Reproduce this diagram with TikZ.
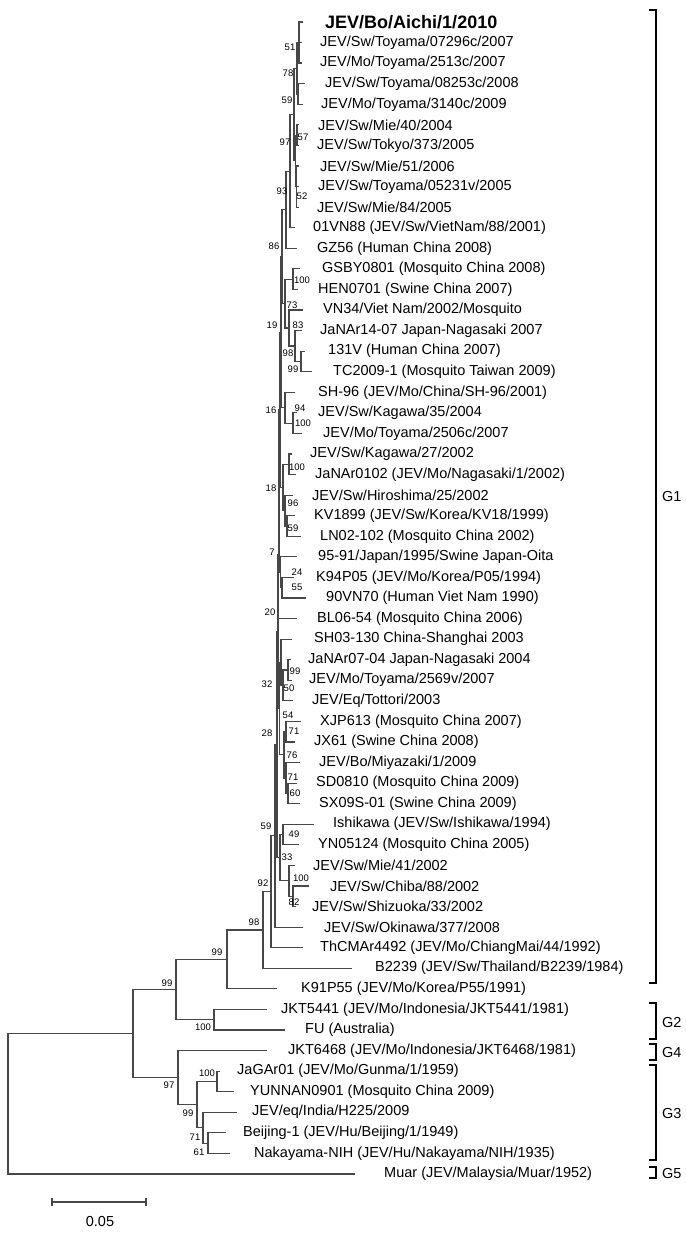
\documentclass[tikz,border=0pt]{standalone}
\usepackage{fontspec}
\setmainfont{Liberation Sans}
\usetikzlibrary{positioning}

\begin{document}
\begin{tikzpicture}[
  x=1pt, y=-1pt,
  leaf/.style={anchor=west, inner sep=0pt, font=\fontsize{14.5}{16}\selectfont},
  boot/.style={inner sep=0pt, font=\fontsize{9.5}{10}\selectfont},
  branch/.style={draw=black!72, line width=1.2pt},
  clade/.style={draw=black, line width=2.3pt},
  grp/.style={anchor=west, inner sep=0pt, font=\fontsize{14.5}{16}\selectfont}
]
\useasboundingbox (0,0) rectangle (685,1236);

% leaves
\node[leaf, font=\fontsize{18}{20}\selectfont\bfseries] (l1) at (325,22.0) {JEV/Bo/Aichi/1/2010};
\node[leaf] (l2) at (320,42.6) {JEV/Sw/Toyama/07296c/2007};
\node[leaf] (l3) at (320,63.1) {JEV/Mo/Toyama/2513c/2007};
\node[leaf] (l4) at (325,83.7) {JEV/Sw/Toyama/08253c/2008};
\node[leaf] (l5) at (321,104.3) {JEV/Mo/Toyama/3140c/2009};
\node[leaf] (l6) at (318,124.9) {JEV/Sw/Mie/40/2004};
\node[leaf] (l7) at (317,145.4) {JEV/Sw/Tokyo/373/2005};
\node[leaf] (l8) at (320,166.0) {JEV/Sw/Mie/51/2006};
\node[leaf] (l9) at (318,186.6) {JEV/Sw/Toyama/05231v/2005};
\node[leaf] (l10) at (317,207.1) {JEV/Sw/Mie/84/2005};
\node[leaf] (l11) at (313,227.7) {01VN88 (JEV/Sw/VietNam/88/2001)};
\node[leaf] (l12) at (317,248.3) {GZ56 (Human China 2008)};
\node[leaf] (l13) at (322,268.8) {GSBY0801 (Mosquito China 2008)};
\node[leaf] (l14) at (318,289.4) {HEN0701 (Swine China 2007)};
\node[leaf] (l15) at (323,310.0) {VN34/Viet Nam/2002/Mosquito};
\node[leaf] (l16) at (320,330.6) {JaNAr14-07 Japan-Nagasaki 2007};
\node[leaf] (l17) at (328,351.1) {131V (Human China 2007)};
\node[leaf] (l18) at (333,371.7) {TC2009-1 (Mosquito Taiwan 2009)};
\node[leaf] (l19) at (318,392.3) {SH-96 (JEV/Mo/China/SH-96/2001)};
\node[leaf] (l20) at (318,412.8) {JEV/Sw/Kagawa/35/2004};
\node[leaf] (l21) at (323,433.4) {JEV/Mo/Toyama/2506c/2007};
\node[leaf] (l22) at (310,454.0) {JEV/Sw/Kagawa/27/2002};
\node[leaf] (l23) at (315,474.5) {JaNAr0102 (JEV/Mo/Nagasaki/1/2002)};
\node[leaf] (l24) at (312,495.1) {JEV/Sw/Hiroshima/25/2002};
\node[leaf] (l25) at (314,515.7) {KV1899 (JEV/Sw/Korea/KV18/1999)};
\node[leaf] (l26) at (320,536.3) {LN02-102 (Mosquito China 2002)};
\node[leaf] (l27) at (318,556.8) {95-91/Japan/1995/Swine Japan-Oita};
\node[leaf] (l28) at (316,577.4) {K94P05 (JEV/Mo/Korea/P05/1994)};
\node[leaf] (l29) at (326,598.0) {90VN70 (Human Viet Nam 1990)};
\node[leaf] (l30) at (317,618.5) {BL06-54 (Mosquito China 2006)};
\node[leaf] (l31) at (314,639.1) {SH03-130 China-Shanghai 2003};
\node[leaf] (l32) at (308,659.7) {JaNAr07-04 Japan-Nagasaki 2004};
\node[leaf] (l33) at (309,680.2) {JEV/Mo/Toyama/2569v/2007};
\node[leaf] (l34) at (312,700.8) {JEV/Eq/Tottori/2003};
\node[leaf] (l35) at (320,721.4) {XJP613 (Mosquito China 2007)};
\node[leaf] (l36) at (314,742.0) {JX61 (Swine China 2008)};
\node[leaf] (l37) at (319,762.5) {JEV/Bo/Miyazaki/1/2009};
\node[leaf] (l38) at (316,783.1) {SD0810 (Mosquito China 2009)};
\node[leaf] (l39) at (319,803.7) {SX09S-01 (Swine China 2009)};
\node[leaf] (l40) at (333,824.2) {Ishikawa (JEV/Sw/Ishikawa/1994)};
\node[leaf] (l41) at (318,844.8) {YN05124 (Mosquito China 2005)};
\node[leaf] (l42) at (313,865.4) {JEV/Sw/Mie/41/2002};
\node[leaf] (l43) at (330,885.9) {JEV/Sw/Chiba/88/2002};
\node[leaf] (l44) at (312,906.5) {JEV/Sw/Shizuoka/33/2002};
\node[leaf] (l45) at (324,927.1) {JEV/Sw/Okinawa/377/2008};
\node[leaf] (l46) at (320,947.6) {ThCMAr4492 (JEV/Mo/ChiangMai/44/1992)};
\node[leaf] (l47) at (375,968.2) {B2239 (JEV/Sw/Thailand/B2239/1984)};
\node[leaf] (l48) at (301,988.8) {K91P55 (JEV/Mo/Korea/P55/1991)};
\node[leaf] (l49) at (281,1009.4) {JKT5441 (JEV/Mo/Indonesia/JKT5441/1981)};
\node[leaf] (l50) at (305,1029.9) {FU (Australia)};
\node[leaf] (l51) at (288,1050.5) {JKT6468 (JEV/Mo/Indonesia/JKT6468/1981)};
\node[leaf] (l52) at (237,1071.1) {JaGAr01 (JEV/Mo/Gunma/1/1959)};
\node[leaf] (l53) at (250,1091.6) {YUNNAN0901 (Mosquito China 2009)};
\node[leaf] (l54) at (252,1112.2) {JEV/eq/India/H225/2009};
\node[leaf] (l55) at (243,1132.8) {Beijing-1 (JEV/Hu/Beijing/1/1949)};
\node[leaf] (l56) at (254,1153.4) {Nakayama-NIH (JEV/Hu/Nakayama/NIH/1935)};
\node[leaf] (l57) at (384,1173.9) {Muar (JEV/Malaysia/Muar/1952)};

% branch tips
\coordinate (t1) at (303,22.0);   \coordinate (t2) at (302,42.6);
\coordinate (t3) at (302,63.1);   \coordinate (t4) at (305,83.7);
\coordinate (t5) at (303,104.3);  \coordinate (t6) at (299,124.9);
\coordinate (t7) at (299,145.4);  \coordinate (t8) at (299,166.0);
\coordinate (t9) at (299,186.6);  \coordinate (t10) at (299,207.1);
\coordinate (t11) at (295,227.7); \coordinate (t12) at (297,248.3);
\coordinate (t13) at (300,268.8); \coordinate (t14) at (298,289.4);
\coordinate (t15) at (303,310.0); \coordinate (t16) at (302,330.6);
\coordinate (t17) at (305,351.1); \coordinate (t18) at (312,371.7);
\coordinate (t19) at (295,392.3); \coordinate (t20) at (297,412.8);
\coordinate (t21) at (302,433.4); \coordinate (t22) at (292,454.0);
\coordinate (t23) at (296,474.5); \coordinate (t24) at (293,495.1);
\coordinate (t25) at (295,515.7); \coordinate (t26) at (301,536.3);
\coordinate (t27) at (297,556.8); \coordinate (t28) at (294,577.4);
\coordinate (t29) at (306,598.0); \coordinate (t30) at (297,618.5);
\coordinate (t31) at (292,639.1); \coordinate (t32) at (291,659.7);
\coordinate (t33) at (292,680.2); \coordinate (t34) at (293,700.8);
\coordinate (t35) at (301,721.4); \coordinate (t36) at (295,742.0);
\coordinate (t37) at (300,762.5); \coordinate (t38) at (297,783.1);
\coordinate (t39) at (300,803.7); \coordinate (t40) at (314,824.2);
\coordinate (t41) at (299,844.8); \coordinate (t42) at (295,865.4);
\coordinate (t43) at (309,885.9); \coordinate (t44) at (296,906.5);
\coordinate (t45) at (303,927.1); \coordinate (t46) at (303,947.6);
\coordinate (t47) at (352,968.2); \coordinate (t48) at (277,988.8);
\coordinate (t49) at (267,1009.4); \coordinate (t50) at (285,1029.9);
\coordinate (t51) at (267,1050.5); \coordinate (t52) at (220,1071.1);
\coordinate (t53) at (234,1091.6); \coordinate (t54) at (237,1112.2);
\coordinate (t55) at (226,1132.8); \coordinate (t56) at (230,1153.4);
\coordinate (t57) at (355,1173.9);

% internal nodes
\coordinate (a1) at (299,42.55);  \coordinate (a2) at (298,94.0);
\coordinate (a3) at (297,68.3);   \coordinate (a4) at (297,135.15);
\coordinate (a5) at (296.5,186.55); \coordinate (a6) at (295.5,160.85);
\coordinate (a7) at (294,114.6);  \coordinate (a8) at (290,171.15);
\coordinate (a9) at (286,209.7);
\coordinate (b1) at (293,279.1);  \coordinate (b2) at (301,361.4);
\coordinate (b3) at (295,346.0);  \coordinate (b4) at (289,328.0);
\coordinate (b5) at (285,303.55);
\coordinate (c1) at (293,423.1);  \coordinate (c2) at (285,407.7);
\coordinate (d1) at (289,464.25); \coordinate (d2) at (287,526.0);
\coordinate (d3) at (285,510.55); \coordinate (d4) at (283,487.4);
\coordinate (e1) at (282,587.7);  \coordinate (e2) at (280.5,572.25);
\coordinate (f1) at (288,669.95); \coordinate (f2) at (283,685.4);
\coordinate (f3) at (281,662.25); \coordinate (f4) at (286,731.7);
\coordinate (f5) at (288,793.4);  \coordinate (f6) at (286,777.95);
\coordinate (f7) at (284,754.8);  \coordinate (f9) at (279.5,708.5);
\coordinate (g1) at (283,834.5);  \coordinate (g2) at (293,896.2);
\coordinate (g3) at (289,880.8);  \coordinate (g4) at (280,857.65);
\coordinate (sp1) at (282,256.6); \coordinate (sp2) at (281,332.15);
\coordinate (sp3) at (280,409.8); \coordinate (sp4) at (279,491.0);
\coordinate (sp5) at (278.5,554.75); \coordinate (sp6) at (278,631.6);
\coordinate (sp7) at (277,744.6); \coordinate (sp8) at (275,835.85);
\coordinate (n92) at (271,891.7); \coordinate (n98) at (263,929.95);
\coordinate (n99c) at (227,959.4); \coordinate (nG2) at (214,1019.65);
\coordinate (n99b) at (176,989.5);
\coordinate (h1) at (217,1081.35); \coordinate (h3) at (208,1143.1);
\coordinate (h2) at (203,1127.65); \coordinate (nG3) at (197,1104.5);
\coordinate (nG34) at (178,1077.5); \coordinate (nA) at (133,1033.5);
\coordinate (root) at (8,1103.7);

% branches
\draw[branch] (a1) |- (t1) (a1) |- (t2) (a1) |- (t3);
\draw[branch] (a2) |- (t4) (a2) |- (t5);
\draw[branch] (a3) |- (a1) (a3) |- (a2);
\draw[branch] (a4) |- (t6) (a4) |- (t7);
\draw[branch] (a5) |- (t8) (a5) |- (t9) (a5) |- (t10);
\draw[branch] (a6) |- (a4) (a6) |- (a5);
\draw[branch] (a7) |- (a3) (a7) |- (a6);
\draw[branch] (a8) |- (a7) (a8) |- (t11);
\draw[branch] (a9) |- (a8) (a9) |- (t12);
\draw[branch] (b1) |- (t13) (b1) |- (t14);
\draw[branch] (b2) |- (t17) (b2) |- (t18);
\draw[branch] (b3) |- (t16) (b3) |- (b2);
\draw[branch] (b4) |- (t15) (b4) |- (b3);
\draw[branch] (b5) |- (b1) (b5) |- (b4);
\draw[branch] (c1) |- (t20) (c1) |- (t21);
\draw[branch] (c2) |- (t19) (c2) |- (c1);
\draw[branch] (d1) |- (t22) (d1) |- (t23);
\draw[branch] (d2) |- (t25) (d2) |- (t26);
\draw[branch] (d3) |- (t24) (d3) |- (d2);
\draw[branch] (d4) |- (d1) (d4) |- (d3);
\draw[branch] (e1) |- (t28) (e1) |- (t29);
\draw[branch] (e2) |- (t27) (e2) |- (e1);
\draw[branch] (f1) |- (t32) (f1) |- (t33);
\draw[branch] (f2) |- (f1) (f2) |- (t34);
\draw[branch] (f3) |- (t31) (f3) |- (f2);
\draw[branch] (f4) |- (t35) (f4) |- (t36);
\draw[branch] (f5) |- (t38) (f5) |- (t39);
\draw[branch] (f6) |- (t37) (f6) |- (f5);
\draw[branch] (f7) |- (f4) (f7) |- (f6);
\draw[branch] (f9) |- (f3) (f9) |- (f7);
\draw[branch] (g1) |- (t40) (g1) |- (t41);
\draw[branch] (g2) |- (t43) (g2) |- (t44);
\draw[branch] (g3) |- (t42) (g3) |- (g2);
\draw[branch] (g4) |- (g1) (g4) |- (g3);
\draw[branch] (sp1) |- (a9) (sp1) |- (b5);
\draw[branch] (sp2) |- (sp1) (sp2) |- (c2);
\draw[branch] (sp3) |- (sp2) (sp3) |- (d4);
\draw[branch] (sp4) |- (sp3) (sp4) |- (e2);
\draw[branch] (sp5) |- (sp4) (sp5) |- (t30);
\draw[branch] (sp6) |- (sp5) (sp6) |- (f9);
\draw[branch] (sp7) |- (sp6) (sp7) |- (g4);
\draw[branch] (sp8) |- (sp7) (sp8) |- (t45);
\draw[branch] (n92) |- (sp8) (n92) |- (t46);
\draw[branch] (n98) |- (n92) (n98) |- (t47);
\draw[branch] (n99c) |- (n98) (n99c) |- (t48);
\draw[branch] (nG2) |- (t49) (nG2) |- (t50);
\draw[branch] (n99b) |- (n99c) (n99b) |- (nG2);
\draw[branch] (h1) |- (t52) (h1) |- (t53);
\draw[branch] (h3) |- (t55) (h3) |- (t56);
\draw[branch] (h2) |- (t54) (h2) |- (h3);
\draw[branch] (nG3) |- (h1) (nG3) |- (h2);
\draw[branch] (nG34) |- (t51) (nG34) |- (nG3);
\draw[branch] (nA) |- (n99b) (nA) |- (nG34);
\draw[branch] (root) |- (nA) (root) |- (t57);

% bootstrap values
\node[boot] (v51) at (290,47) {51};
\node[boot] (v78) at (288,73) {78};
\node[boot] (v59a) at (287,100) {59};
\node[boot] (v57) at (303,137) {57};
\node[boot] (v97a) at (285,142) {97};
\node[boot] (v93) at (282,191) {93};
\node[boot] (v52) at (302,196) {52};
\node[boot] (v86) at (274,246) {86};
\node[boot] (v100a) at (302,280) {100};
\node[boot] (v73) at (292,305) {73};
\node[boot] (v19) at (272,325) {19};
\node[boot] (v83) at (298,325) {83};
\node[boot] (v98a) at (288,353) {98};
\node[boot] (v99a) at (293,369) {99};
\node[boot] (v16) at (271,410) {16};
\node[boot] (v94) at (300,408) {94};
\node[boot] (v100b) at (303,423) {100};
\node[boot] (v100c) at (297,467) {100};
\node[boot] (v18) at (271,488) {18};
\node[boot] (v96) at (293,503) {96};
\node[boot] (v59b) at (293,528) {59};
\node[boot] (v7) at (272,552) {7};
\node[boot] (v24) at (297,572) {24};
\node[boot] (v55) at (297,587) {55};
\node[boot] (v20) at (270,612) {20};
\node[boot] (v99b) at (295,671) {99};
\node[boot] (v32) at (267,684) {32};
\node[boot] (v50) at (289,688) {50};
\node[boot] (v54) at (288,715) {54};
\node[boot] (v28) at (267,733) {28};
\node[boot] (v71a) at (294,731) {71};
\node[boot] (v76) at (292,755) {76};
\node[boot] (v71b) at (293,777) {71};
\node[boot] (v60) at (295,793) {60};
\node[boot] (v59c) at (266,826) {59};
\node[boot] (v49) at (294,834) {49};
\node[boot] (v33) at (287,857) {33};
\node[boot] (v100d) at (301,878) {100};
\node[boot] (v92) at (263,883) {92};
\node[boot] (v82) at (294,902) {82};
\node[boot] (v98b) at (254,922) {98};
\node[boot] (v99c) at (217,952) {99};
\node[boot] (v99d) at (167,983) {99};
\node[boot] (v100e) at (203,1027) {100};
\node[boot] (v100f) at (207,1073) {100};
\node[boot] (v97b) at (169,1085) {97};
\node[boot] (v99e) at (188,1113) {99};
\node[boot] (v71c) at (195,1137) {71};
\node[boot] (v61) at (199,1152) {61};

% genotype brackets
\draw[clade] (649,10) -- (656,10) -- (656,983) -- (649,983);
\draw[clade] (649,1003) -- (656,1003) -- (656,1039) -- (649,1039);
\draw[clade] (649,1044) -- (656,1044) -- (656,1060) -- (649,1060);
\draw[clade] (649,1065) -- (656,1065) -- (656,1160) -- (649,1160);
\draw[clade] (649,1167) -- (656,1167) -- (656,1178) -- (649,1178);
\node[grp] (G1) at (662,497) {G1};
\node[grp] (G2) at (662,1022) {G2};
\node[grp] (G4) at (662,1052) {G4};
\node[grp] (G3) at (662,1113) {G3};
\node[grp] (G5) at (662,1173) {G5};

% scale bar
\coordinate (s0) at (52,1202);
\coordinate (s1) at (146,1202);
\draw[branch] (s0) -- (s1);
\draw[branch] ([yshift=-4]s0) -- ([yshift=4]s0);
\draw[branch] ([yshift=-4]s1) -- ([yshift=4]s1);
\node[leaf, anchor=center] (sl) at (100,1221) {0.05};
\end{tikzpicture}
\end{document}
